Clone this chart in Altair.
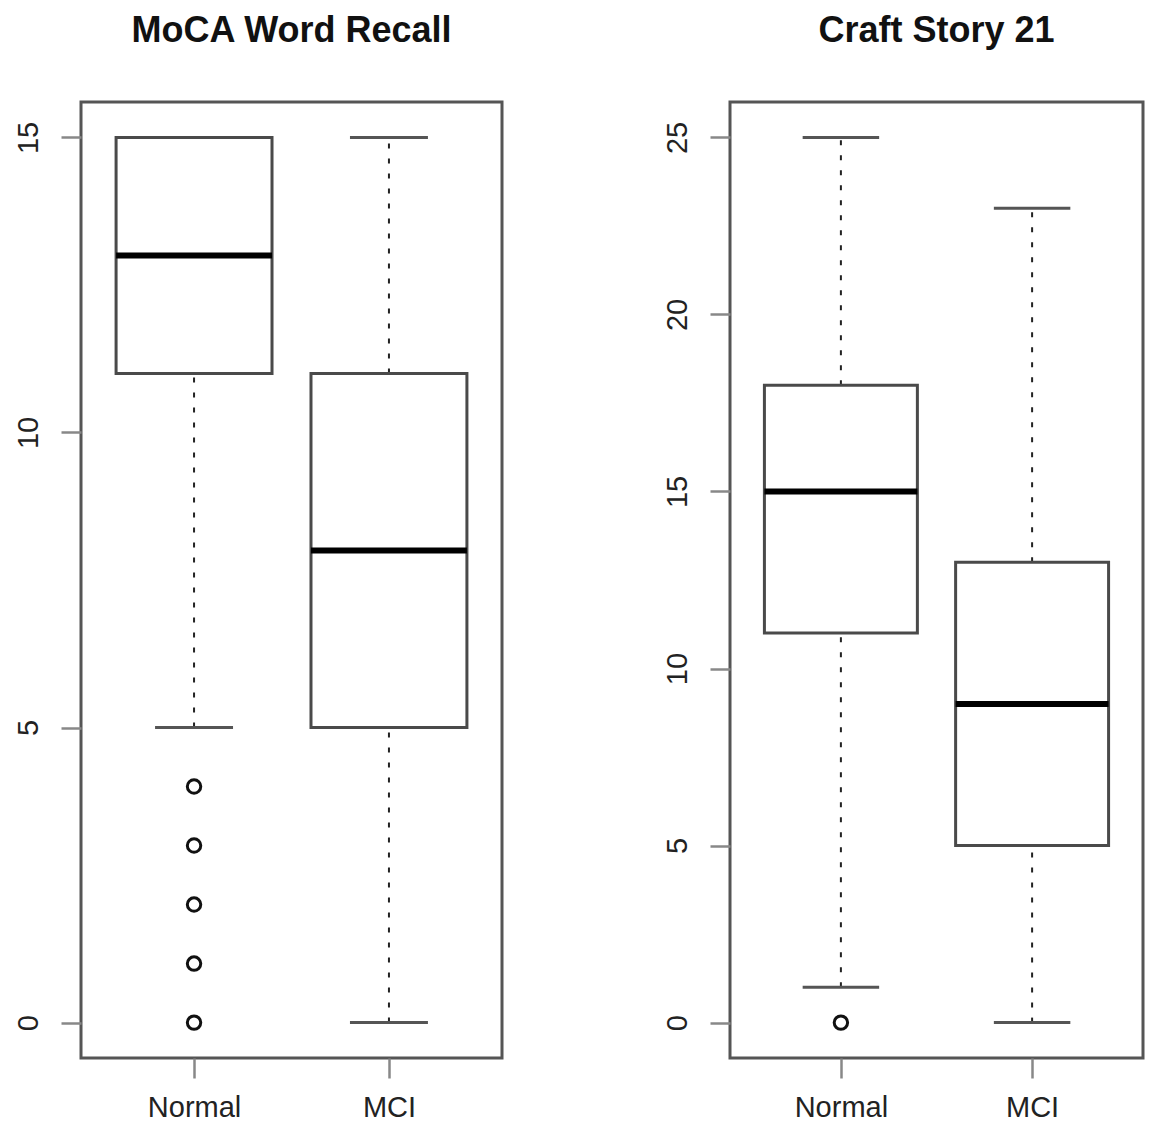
import altair as alt
import pandas as pd

# ---------------- data ----------------
groups = ["Normal", "MCI"]

moca_lower = [5, 0]
moca_q1 = [11, 5]
moca_median = [13, 8]
moca_q3 = [15, 11]
moca_upper = [15, 15]
moca_outlier_group = ["Normal", "Normal", "Normal", "Normal", "Normal"]
moca_outlier_value = [4, 3, 2, 1, 0]
moca_ticks = [0, 5, 10, 15]

craft_lower = [1, 0]
craft_q1 = [11, 5]
craft_median = [15, 9]
craft_q3 = [18, 13]
craft_upper = [25, 23]
craft_outlier_group = ["Normal"]
craft_outlier_value = [0]
craft_ticks = [0, 5, 10, 15, 20, 25]

FONT = "Liberation Sans"


def panel(title, lower, q1, median, q3, upper, og, ov, ymax, yticks, width):
    stats = pd.DataFrame({"group": groups, "lower": lower, "q1": q1,
                          "median": median, "q3": q3, "upper": upper})
    outl = pd.DataFrame({"group": og, "value": ov})
    pad = ymax * 0.04
    box_w = 0.8 * width / 2.16
    cap_w = box_w / 2
    xs = alt.Scale(type="point", domain=groups, padding=0.58)
    xa = alt.Axis(title=None, labelAngle=0, labelFontSize=29, tickSize=20,
                  labelPadding=15, domain=False, grid=False)
    ys = alt.Scale(domain=[-pad, ymax + pad], nice=False, zero=False)
    ya = alt.Axis(title=None, values=yticks, labelAngle=270, labelAlign="center",
                  labelBaseline="middle", labelPadding=33, tickSize=20,
                  grid=False, domain=False, labelFontSize=29)
    x = alt.X("group:N", scale=xs, axis=xa)
    base = alt.Chart(stats)
    wlo = base.mark_rule(strokeDash=[5, 10], strokeWidth=2, color="#222").encode(
        x=x, y=alt.Y("lower:Q", scale=ys, axis=ya), y2="q1:Q")
    whi = base.mark_rule(strokeDash=[5, 10], strokeWidth=2, color="#222").encode(
        x=x, y=alt.Y("q3:Q", scale=ys, axis=ya), y2="upper:Q")
    clo = base.mark_tick(size=cap_w, thickness=3, color="#555", opacity=1).encode(
        x=x, y=alt.Y("lower:Q", scale=ys, axis=ya))
    chi = base.mark_tick(size=cap_w, thickness=3, color="#555", opacity=1).encode(
        x=x, y=alt.Y("upper:Q", scale=ys, axis=ya))
    box = base.mark_bar(size=box_w, fill="white", stroke="#4a4a4a", strokeWidth=3,
                        opacity=1).encode(
        x=x, y=alt.Y("q1:Q", scale=ys, axis=ya), y2="q3:Q")
    med = base.mark_tick(size=box_w, thickness=6, color="black", opacity=1).encode(
        x=x, y=alt.Y("median:Q", scale=ys, axis=ya))
    pts = alt.Chart(outl).mark_point(shape="circle", filled=False, size=180,
                                     strokeWidth=3, color="#111", opacity=1).encode(
        x=x, y=alt.Y("value:Q", scale=ys, axis=ya))
    return alt.layer(wlo, whi, clo, chi, box, med, pts).properties(
        width=width, height=956,
        title=alt.TitleParams(title, fontSize=36, fontWeight="bold", offset=52,
                              anchor="middle", font=FONT, color="#111"))


left = panel("MoCA Word Recall", moca_lower, moca_q1, moca_median, moca_q3, moca_upper,
             moca_outlier_group, moca_outlier_value, 15, moca_ticks, 421)
right = panel("Craft Story 21", craft_lower, craft_q1, craft_median, craft_q3, craft_upper,
              craft_outlier_group, craft_outlier_value, 25, craft_ticks, 413)

chart = alt.hconcat(left, right, spacing=157).properties(
    padding={"left": 4, "top": 3, "right": 0, "bottom": 0}
).configure_view(stroke="#555", strokeWidth=3).configure_axis(
    labelFont=FONT, labelColor="#222", tickColor="#888", tickWidth=2.5
)

chart.save("out.html", embed_options={"renderer": "svg", "actions": False})
